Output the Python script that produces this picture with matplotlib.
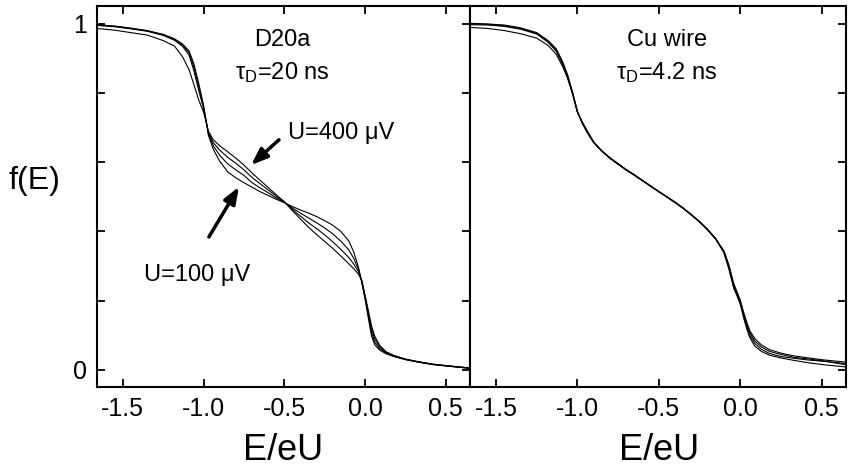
import matplotlib
matplotlib.use("Agg")
import matplotlib.pyplot as plt
from matplotlib import font_manager

plt.rcParams['font.family'] = ['Liberation Sans', 'DejaVu Sans']
plt.rcParams['axes.unicode_minus'] = False
plt.rcParams['mathtext.fontset'] = 'custom'
plt.rcParams['mathtext.rm'] = 'Liberation Sans'
plt.rcParams['mathtext.it'] = 'Liberation Sans'

# ---------------- data ----------------
x = [-1.66, -1.55, -1.45, -1.35, -1.25, -1.18, -1.13, -1.09, -1.06, -1.03,
     -1.00, -0.97, -0.94, -0.90, -0.85, -0.80, -0.75, -0.70, -0.65, -0.60,
     -0.55, -0.50, -0.45, -0.40, -0.35, -0.30, -0.25, -0.20, -0.15, -0.10,
     -0.07, -0.04, -0.02, 0.00, 0.02, 0.04, 0.06, 0.09, 0.13, 0.18,
     0.25, 0.33, 0.42, 0.52, 0.65]

# D20a sample, U = 100, 200, 300, 400 uV
d20a_u100 = [0.998, 0.994, 0.988, 0.981, 0.970, 0.957, 0.942, 0.922, 0.885, 0.828,
             0.765, 0.678, 0.638, 0.603, 0.572, 0.555, 0.541, 0.528, 0.515, 0.504,
             0.493, 0.483, 0.472, 0.462, 0.453, 0.443, 0.431, 0.418, 0.400, 0.372,
             0.340, 0.295, 0.252, 0.205, 0.150, 0.098, 0.072, 0.057, 0.046, 0.038,
             0.029, 0.022, 0.015, 0.010, 0.004]
d20a_u200 = [0.997, 0.993, 0.987, 0.980, 0.969, 0.955, 0.939, 0.917, 0.875, 0.818,
             0.760, 0.682, 0.648, 0.620, 0.595, 0.578, 0.562, 0.541, 0.526, 0.512,
             0.497, 0.484, 0.468, 0.453, 0.439, 0.425, 0.410, 0.393, 0.372, 0.346,
             0.322, 0.290, 0.254, 0.208, 0.158, 0.108, 0.080, 0.061, 0.048, 0.039,
             0.030, 0.022, 0.015, 0.010, 0.004]
d20a_u300 = [0.996, 0.992, 0.986, 0.979, 0.967, 0.953, 0.935, 0.910, 0.865, 0.808,
             0.755, 0.686, 0.657, 0.635, 0.614, 0.597, 0.578, 0.556, 0.538, 0.520,
             0.502, 0.485, 0.464, 0.444, 0.425, 0.408, 0.390, 0.370, 0.348, 0.324,
             0.306, 0.283, 0.256, 0.212, 0.165, 0.118, 0.089, 0.066, 0.050, 0.040,
             0.030, 0.023, 0.016, 0.011, 0.005]
d20a_u400 = [0.987, 0.982, 0.975, 0.968, 0.952, 0.936, 0.905, 0.868, 0.825, 0.780,
             0.745, 0.690, 0.665, 0.648, 0.630, 0.612, 0.592, 0.569, 0.548, 0.527,
             0.506, 0.486, 0.460, 0.436, 0.412, 0.391, 0.371, 0.351, 0.329, 0.306,
             0.292, 0.276, 0.258, 0.216, 0.172, 0.127, 0.097, 0.071, 0.052, 0.041,
             0.031, 0.023, 0.016, 0.011, 0.005]

# Cu wire sample, four bias voltages
cu_1 = [1.002, 1.000, 0.997, 0.989, 0.975, 0.952, 0.928, 0.890, 0.852, 0.803,
        0.748, 0.712, 0.686, 0.656, 0.632, 0.612, 0.595, 0.578, 0.563, 0.547,
        0.531, 0.515, 0.500, 0.484, 0.467, 0.448, 0.428, 0.405, 0.378, 0.338,
        0.292, 0.236, 0.214, 0.190, 0.152, 0.118, 0.092, 0.068, 0.053, 0.042,
        0.034, 0.027, 0.020, 0.014, 0.008]
cu_2 = [1.000, 0.999, 0.995, 0.987, 0.973, 0.950, 0.925, 0.886, 0.850, 0.801,
        0.746, 0.714, 0.688, 0.657, 0.632, 0.611, 0.594, 0.578, 0.562, 0.546,
        0.531, 0.514, 0.499, 0.483, 0.466, 0.448, 0.427, 0.404, 0.378, 0.340,
        0.296, 0.240, 0.218, 0.194, 0.158, 0.125, 0.099, 0.076, 0.059, 0.047,
        0.038, 0.033, 0.028, 0.024, 0.018]
cu_3 = [0.998, 0.997, 0.993, 0.985, 0.971, 0.947, 0.921, 0.882, 0.846, 0.799,
        0.745, 0.715, 0.690, 0.658, 0.633, 0.613, 0.596, 0.579, 0.564, 0.547,
        0.532, 0.515, 0.500, 0.485, 0.467, 0.449, 0.428, 0.406, 0.379, 0.342,
        0.300, 0.245, 0.222, 0.198, 0.163, 0.132, 0.106, 0.083, 0.066, 0.053,
        0.044, 0.036, 0.031, 0.025, 0.014]
cu_4 = [0.990, 0.987, 0.981, 0.972, 0.959, 0.938, 0.912, 0.876, 0.842, 0.797,
        0.744, 0.716, 0.691, 0.659, 0.633, 0.612, 0.595, 0.577, 0.563, 0.548,
        0.530, 0.516, 0.500, 0.484, 0.468, 0.447, 0.429, 0.405, 0.377, 0.344,
        0.304, 0.250, 0.226, 0.202, 0.168, 0.138, 0.112, 0.090, 0.072, 0.058,
        0.048, 0.040, 0.034, 0.028, 0.022]

xticks = [-1.5, -1.0, -0.5, 0.0, 0.5]
xticklabels = ["-1.5", "-1.0", "-0.5", "0.0", "0.5"]
yticks = [0.0, 0.2, 0.4, 0.6, 0.8, 1.0]
yticklabels = ["0", "", "", "", "", "1"]

# ---------------- figure ----------------
W, H = 851, 472
fig = plt.figure(figsize=(W / 100, H / 100), dpi=100)

def fx(px):
    return px / W

def fy(py):
    return 1 - py / H

ax1 = fig.add_axes([fx(97), fy(387), fx(470) - fx(97), fy(6) - fy(387)])
ax2 = fig.add_axes([fx(470), fy(387), fx(846) - fx(470), fy(6) - fy(387)])

for ax in (ax1, ax2):
    ax.set_xlim(-1.66, 0.65)
    ax.set_ylim(-0.05, 1.052)
    ax.set_xticks(xticks)
    ax.set_xticklabels(xticklabels)
    ax.set_yticks(yticks)
    for s in ax.spines.values():
        s.set_linewidth(1.5)
    ax.tick_params(direction='in', length=6, width=1.3, labelsize=18,
                   top=True, right=True, pad=7)

ax1.set_yticklabels(yticklabels)
ax2.tick_params(axis='y', left=False, labelleft=False)

lw = 0.8
for y in (d20a_u100, d20a_u200, d20a_u300, d20a_u400):
    ax1.plot(x, y, color='k', lw=lw)
for y in (cu_1, cu_2, cu_3, cu_4):
    ax2.plot(x, y, color='k', lw=lw)

# label font: narrow if available
try:
    font_manager.findfont(font_manager.FontProperties(family='Liberation Sans Narrow'),
                          fallback_to_default=False)
    lab_family = ['Liberation Sans Narrow', 'Liberation Sans']
    lab_size = 28
except Exception:
    lab_family = ['Liberation Sans']
    lab_size = 26

fig.text(fx(34), fy(181), "f(E)", fontsize=23, ha='center', va='center')
fig.text(fx(283), fy(450), "E/eU", fontsize=lab_size, ha='center', va='center', family=lab_family)
fig.text(fx(659), fy(450), "E/eU", fontsize=lab_size, ha='center', va='center', family=lab_family)

ts = 17
ax1.text(-0.51, 0.955, "D20a", fontsize=ts, ha='center', va='center')
ax1.text(-0.51, 0.86, r"τ$_\mathregular{D}$=20 ns", fontsize=ts, ha='center', va='center')
ax1.text(-0.15, 0.685, "U=400 μV", fontsize=ts, ha='center', va='center')
ax1.text(-1.04, 0.275, "U=100 μV", fontsize=ts, ha='center', va='center')

ax2.text(-0.45, 0.955, "Cu wire", fontsize=ts, ha='center', va='center')
ax2.text(-0.45, 0.86, r"τ$_\mathregular{D}$=4.2 ns", fontsize=ts, ha='center', va='center')

arrow = dict(arrowstyle='-|>,head_length=1.0,head_width=0.38', lw=2.5, color='k',
             shrinkA=0, shrinkB=0)
ax1.annotate("", xy=(-0.706, 0.592), xytext=(-0.533, 0.665), arrowprops=arrow)
ax1.annotate("", xy=(-0.781, 0.529), xytext=(-0.967, 0.384), arrowprops=arrow)

fig.savefig("out.png", dpi=100)
